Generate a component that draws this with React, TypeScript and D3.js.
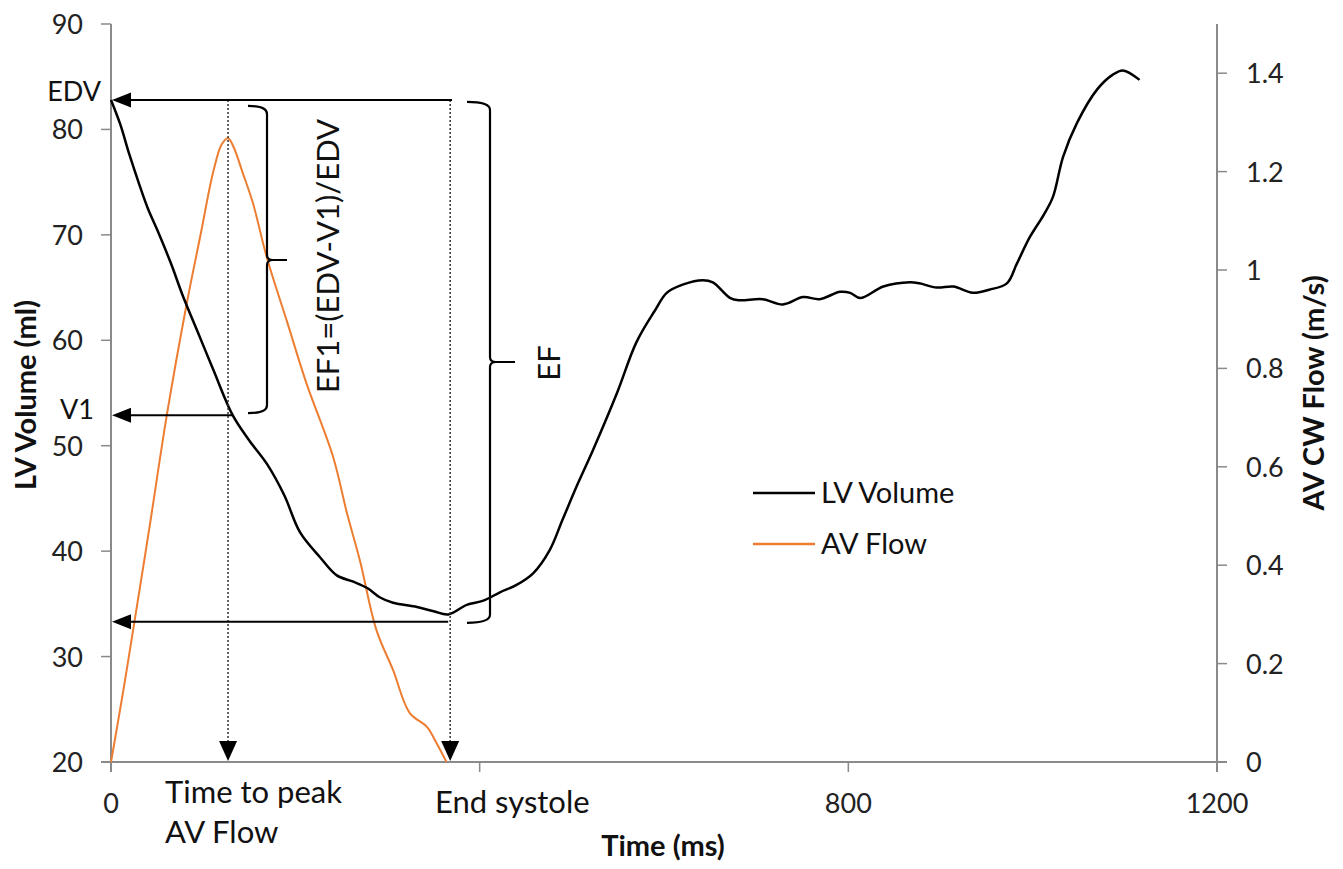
import React from "react";
import * as d3 from "d3";

// LV Volume (ms, ml)
const lvTime = [0, 10, 20, 31, 40, 50, 65, 78, 95, 111, 132, 150, 169, 188, 205, 227, 245, 263, 278, 292, 306, 332, 350, 366, 386, 404, 422, 440, 458, 476, 490, 507, 523, 549, 570, 590, 603, 621, 642, 653, 672, 682, 707, 729, 751, 769, 791, 802, 813, 838, 867, 877, 896, 914, 935, 953, 972, 983, 997, 1012, 1022, 1033, 1048, 1070, 1087, 1098, 1116];
const lvVolume = [82.8, 80.5, 77.6, 74.7, 72.5, 70.5, 67.3, 64.2, 60.6, 57.2, 52.9, 50.5, 48.3, 45.3, 41.8, 39.4, 37.7, 37.1, 36.5, 35.6, 35.1, 34.7, 34.3, 34.0, 34.9, 35.3, 36.1, 36.8, 37.9, 40.1, 43.0, 46.5, 49.6, 55.0, 59.8, 62.8, 64.5, 65.3, 65.7, 65.5, 64.0, 63.8, 63.9, 63.4, 64.1, 63.9, 64.6, 64.5, 64.0, 65.1, 65.5, 65.4, 65.0, 65.1, 64.5, 64.8, 65.4, 67.3, 69.8, 71.9, 73.6, 77.4, 80.6, 83.8, 85.2, 85.6, 84.7];

// AV CW Flow (ms, m/s)
const avTime = [0, 12, 24, 42, 61, 82, 97, 111, 120, 127, 133, 143, 154, 169, 191, 212, 241, 256, 270, 288, 306, 324, 343, 353, 364];
const avFlow = [0, 0.13, 0.268, 0.48, 0.71, 0.93, 1.07, 1.2, 1.255, 1.268, 1.25, 1.197, 1.136, 1.026, 0.895, 0.77, 0.62, 0.506, 0.41, 0.268, 0.187, 0.1, 0.071, 0.039, 0];

const xTicks = [0, 400, 800, 1200];
const xTickLabels = ["0", "", "800", "1200"];
const yLeftTicks = [20, 30, 40, 50, 60, 70, 80, 90];
const yRightTicks = [0, 0.2, 0.4, 0.6, 0.8, 1, 1.2, 1.4];

// annotation values
const EDV = 82.8;
const V1 = 52.9;
const ESV = 33.3;
const peakTime = 127;
const endSystole = 368;

const FONT = "Lato, 'Liberation Sans', sans-serif";
const AXIS = "#8a8a8a";
const ORANGE = "#ED7D31";

function brace(x0: number, x1: number, x2: number, y0: number, ym: number, y1: number) {
  const r = 8;
  return `M${x0},${y0} Q${x1},${y0} ${x1},${y0 + r} L${x1},${ym - 5} Q${x1},${ym} ${x1 + 6},${ym} L${x2},${ym} M${x1 + 6},${ym} Q${x1},${ym} ${x1},${ym + 5} L${x1},${y1 - r} Q${x1},${y1} ${x0},${y1}`;
}

export default function App() {
  const x = d3.scaleLinear().domain([0, 1200]).range([111, 1217]);
  const yL = d3.scaleLinear().domain([20, 90]).range([762, 24]);
  const yR = d3.scaleLinear().domain([0, 1.5]).range([762, 24]);

  const lvLine = d3
    .line<number>()
    .x((_, i) => x(lvTime[i]))
    .y((v) => yL(v))
    .curve(d3.curveCatmullRom.alpha(0.5));
  const avLine = d3
    .line<number>()
    .x((_, i) => x(avTime[i]))
    .y((v) => yR(v))
    .curve(d3.curveCatmullRom.alpha(0.5));

  const x0 = x(0);
  const yEDV = yL(EDV);
  const yV1 = yL(V1);
  const yESV = yL(ESV);
  const xPeak = x(peakTime);
  const xES = x(endSystole);
  const yBase = yL(20);

  const leftArrow = (xTip: number, y: number) =>
    `M${xTip},${y} L${xTip + 19},${y - 7.5} L${xTip + 19},${y + 7.5} Z`;
  const downArrow = (xc: number, yTip: number) =>
    `M${xc},${yTip} L${xc - 9},${yTip - 20} L${xc + 9},${yTip - 20} Z`;

  return (
    <svg width={1343} height={869} style={{ display: "block", position: "absolute", left: 0, top: 0, background: "#fff" }}>
      {/* axes */}
      <line x1={x0} y1={24} x2={x0} y2={yBase + 10} stroke={AXIS} strokeWidth={2} />
      <line x1={x(1200)} y1={24} x2={x(1200)} y2={yBase + 10} stroke={AXIS} strokeWidth={2} />
      <line x1={x0 - 10} y1={yBase} x2={x(1200) + 10} y2={yBase} stroke={AXIS} strokeWidth={2} />
      {yLeftTicks.map((t) => (
        <g key={"l" + t}>
          <line x1={x0 - 10} x2={x0} y1={yL(t)} y2={yL(t)} stroke={AXIS} strokeWidth={1.5} />
          <text x={83} y={yL(t) + 10} textAnchor="end" fontFamily={FONT} fontSize={27} fill="#222">
            {t}
          </text>
        </g>
      ))}
      {yRightTicks.map((t) => (
        <g key={"r" + t}>
          <line x1={x(1200)} x2={x(1200) + 10} y1={yR(t)} y2={yR(t)} stroke={AXIS} strokeWidth={1.5} />
          <text x={1246} y={yR(t) + 10} textAnchor="start" fontFamily={FONT} fontSize={27} fill="#222">
            {t}
          </text>
        </g>
      ))}
      {xTicks.map((t, i) => (
        <g key={"x" + t}>
          <line x1={x(t)} x2={x(t)} y1={yBase} y2={yBase + 10} stroke={AXIS} strokeWidth={1.5} />
          <text x={x(t)} y={813} textAnchor="middle" fontFamily={FONT} fontSize={27} fill="#222">
            {xTickLabels[i]}
          </text>
        </g>
      ))}

      {/* axis titles */}
      <text x={663} y={856} textAnchor="middle" fontFamily={FONT} fontSize={29} fontWeight="bold" fill="#111">
        Time (ms)
      </text>
      <text transform="translate(36,395) rotate(-90)" textAnchor="middle" fontFamily={FONT} fontSize={29} fontWeight="bold" fill="#111">
        LV Volume (ml)
      </text>
      <text transform="translate(1324,393) rotate(-90)" textAnchor="middle" fontFamily={FONT} fontSize={29} fontWeight="bold" fill="#111">
        AV CW Flow (m/s)
      </text>

      {/* series */}
      <path d={avLine(avFlow) || ""} fill="none" stroke={ORANGE} strokeWidth={2} />
      <path d={lvLine(lvVolume) || ""} fill="none" stroke="#000" strokeWidth={2.5} />

      {/* dotted verticals */}
      <line x1={xPeak} x2={xPeak} y1={yEDV} y2={yBase - 18} stroke="#333" strokeWidth={1.5} strokeDasharray="2,2" />
      <line x1={xES} x2={xES} y1={yEDV} y2={yBase - 18} stroke="#333" strokeWidth={1.5} strokeDasharray="2,2" />
      <path d={downArrow(xPeak, yBase - 1)} fill="#000" />
      <path d={downArrow(xES, yBase - 1)} fill="#000" />

      {/* horizontal arrows */}
      <line x1={x0 + 12} x2={x(370)} y1={yEDV} y2={yEDV} stroke="#000" strokeWidth={2} />
      <path d={leftArrow(x0 + 1, yEDV)} fill="#000" />
      <line x1={x0 + 12} x2={xPeak + 4} y1={yV1} y2={yV1} stroke="#000" strokeWidth={2} />
      <path d={leftArrow(x0 + 1, yV1)} fill="#000" />
      <line x1={x0 + 12} x2={xES - 2} y1={yESV} y2={yESV} stroke="#000" strokeWidth={2} />
      <path d={leftArrow(x0 + 1, yESV)} fill="#000" />

      {/* braces */}
      <path d={brace(248, 267, 287, yEDV + 6, 260, yV1 - 2)} fill="none" stroke="#000" strokeWidth={2.2} />
      <path d={brace(467, 490, 515, yEDV + 2, 362, yESV + 1)} fill="none" stroke="#000" strokeWidth={2.2} />

      {/* annotation text */}
      <text x={101} y={101} textAnchor="end" fontFamily={FONT} fontSize={27} fill="#111">EDV</text>
      <text x={94} y={419} textAnchor="end" fontFamily={FONT} fontSize={27} fill="#111">V1</text>
      <text transform="translate(339,256) rotate(-90)" textAnchor="middle" fontFamily={FONT} fontSize={31} fill="#111">
        EF1=(EDV-V1)/EDV
      </text>
      <text transform="translate(560,363) rotate(-90)" textAnchor="middle" fontFamily={FONT} fontSize={31} fill="#111">
        EF
      </text>
      <text x={165} y={803} fontFamily={FONT} fontSize={31} fill="#111">Time to peak</text>
      <text x={165} y={843} fontFamily={FONT} fontSize={31} fill="#111">AV Flow</text>
      <text x={435} y={813} fontFamily={FONT} fontSize={31} fill="#111">End systole</text>

      {/* legend */}
      <line x1={753} x2={815} y1={493} y2={493} stroke="#000" strokeWidth={2.5} />
      <text x={821} y={503} fontFamily={FONT} fontSize={29} fill="#111">LV Volume</text>
      <line x1={753} x2={815} y1={544} y2={544} stroke={ORANGE} strokeWidth={2.5} />
      <text x={821} y={554} fontFamily={FONT} fontSize={29} fill="#111">AV Flow</text>
    </svg>
  );
}
